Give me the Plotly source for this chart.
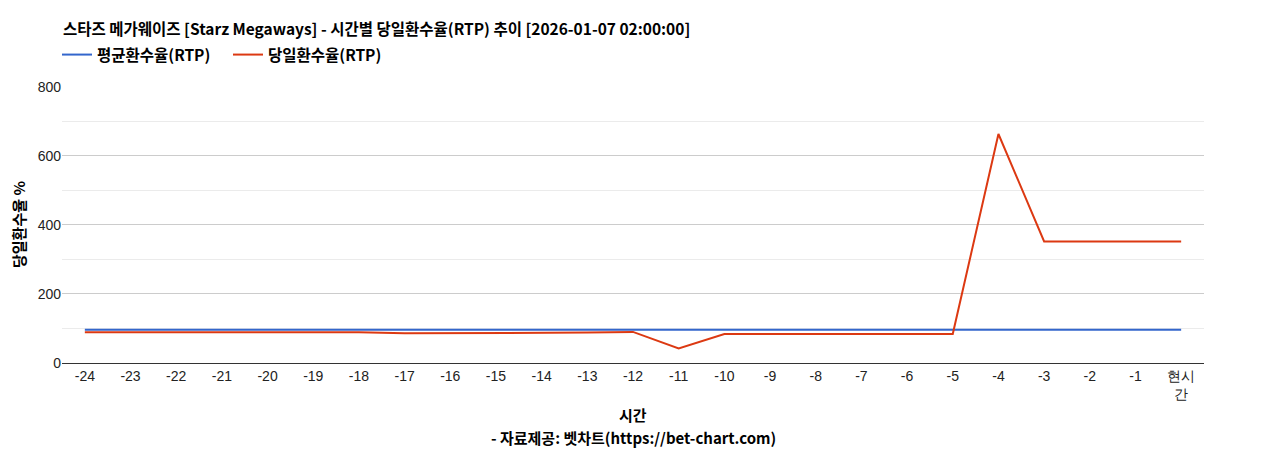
import plotly.graph_objects as go

hours = ["-24", "-23", "-22", "-21", "-20", "-19", "-18", "-17", "-16", "-15", "-14", "-13",
         "-12", "-11", "-10", "-9", "-8", "-7", "-6", "-5", "-4", "-3", "-2", "-1", "현시간"]
hour_labels = hours[:-1] + ["현시<br>간"]

avg_rtp = [96] * 25
day_rtp = [89, 89, 89, 89, 89, 89, 89, 86, 86, 86, 87, 88,
           90, 42, 84, 84, 84, 84, 84, 84, 663, 352, 352, 352, 352]

title_text = "스타즈 메가웨이즈 [Starz Megaways] - 시간별 당일환수율(RTP) 추이 [2026-01-07 02:00:00]"

# page body has an 8px margin, so the figure is a bit smaller than the window
W, H = 1260, 442
ML, MR, MT, MB = 30, 64, 30, 87
paper_w = W - ML - MR
paper_h = H - MT - MB
# plot box wanted at x 54..1196, y 78..355 (figure px); the legend sits inside the paper box
x_dom = [(54 - ML) / paper_w, 1]
y_dom = [0, 1 - (78 - MT) / paper_h]
kr = "Noto Sans CJK KR"

fig = go.Figure()
fig.add_trace(go.Scatter(x=hours, y=avg_rtp, name="<b>평균환수율(RTP)</b>", mode="lines",
                         line=dict(color="#3366CC", width=2)))
fig.add_trace(go.Scatter(x=hours, y=day_rtp, name="<b>당일환수율(RTP)</b>", mode="lines",
                         line=dict(color="#DC3912", width=2)))

fig.update_layout(
    width=W, height=H,
    margin=dict(l=ML, r=MR, t=MT, b=MB),
    plot_bgcolor="white", paper_bgcolor="white",
    font=dict(family="Liberation Sans, Arial", size=13, color="#222"),
    title=dict(text="<b>" + title_text + "</b>", xref="container", yref="container",
               x=55 / W, y=1 - 22 / H, xanchor="left", yanchor="middle",
               font=dict(family=kr, size=15.5, color="#000")),
    legend=dict(orientation="h", xref="paper", yref="paper",
                x=(49 - ML) / paper_w, y=(H - MB - 47) / paper_h, xanchor="left", yanchor="middle",
                font=dict(family=kr, size=15.5, color="#000"),
                itemwidth=30, entrywidth=126, entrywidthmode="pixels", tracegroupgap=0),
    showlegend=True,
    hovermode="x",
)
fig.update_xaxes(type="category", tickvals=hours, ticktext=hour_labels, domain=x_dom,
                 range=[-0.5, 24.5], showgrid=False, showline=True,
                 linecolor="#333", linewidth=1, ticks="", tickfont=dict(size=14, color="#222"))
fig.update_yaxes(range=[0, 802], dtick=200, showgrid=True, gridcolor="#cccccc", domain=y_dom,
                 minor=dict(dtick=100, showgrid=True, gridcolor="#ebebeb"),
                 zeroline=True, zerolinecolor="#333", zerolinewidth=1,
                 ticks="", tickfont=dict(size=14, color="#222"))

fig.add_annotation(text="<b>당일환수율 %</b>", xref="x domain", yref="y domain",
                   x=0, xshift=-56, y=0.5, showarrow=False, textangle=-90,
                   font=dict(family=kr, size=15, color="#000"))
fig.add_annotation(text="<b>시간</b>", xref="x domain", yref="y domain",
                   x=0.5, y=0, yshift=-51, showarrow=False,
                   yanchor="middle", font=dict(family=kr, size=15, color="#000"))
fig.add_annotation(text="<b>- 자료제공: 벳차트(https://bet-chart.com)</b>", xref="x domain", yref="y domain",
                   x=0.5, y=0, yshift=-74, showarrow=False,
                   yanchor="middle", font=dict(family=kr, size=15, color="#000"))

fig.write_html("out.html")
